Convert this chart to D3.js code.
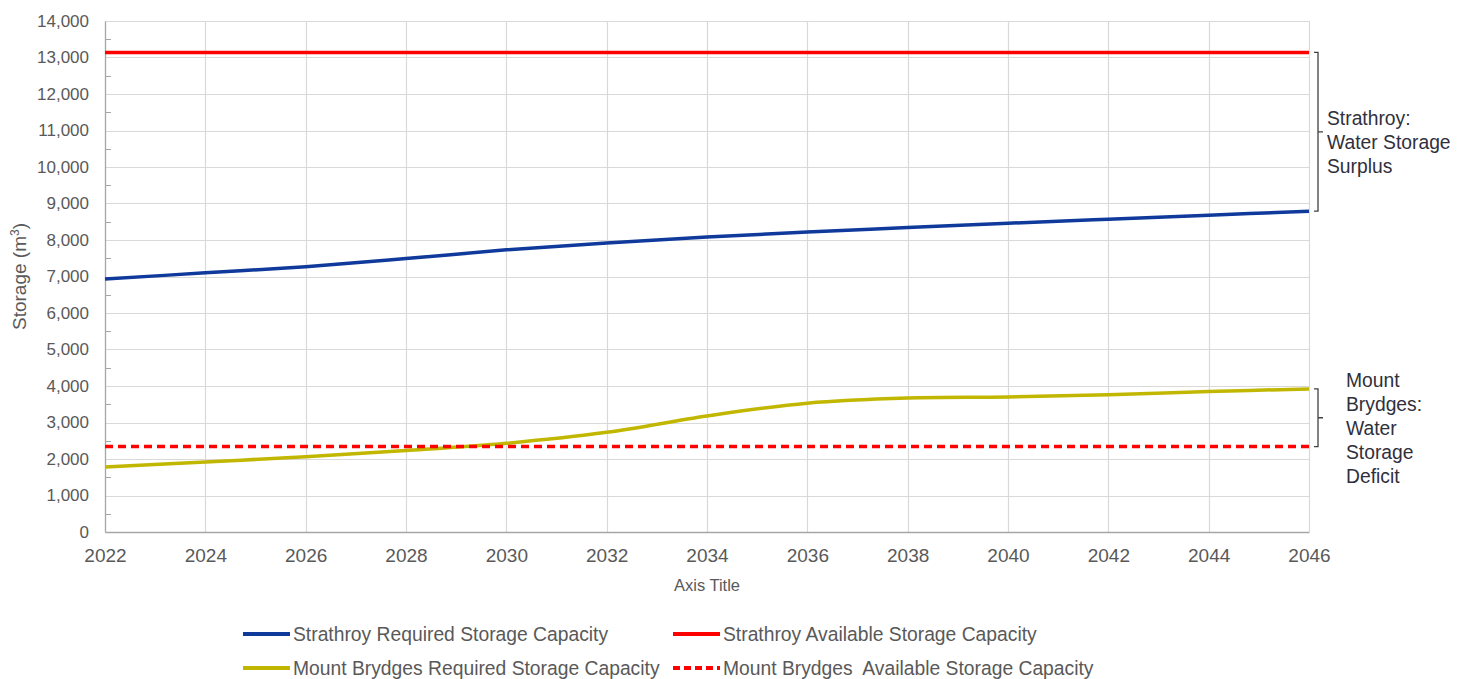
<!DOCTYPE html>
<html>
<head>
<meta charset="utf-8">
<script src="https://cdn.jsdelivr.net/npm/d3@7"></script>
<style>
  body { margin: 0; background: #fff; }
  svg { font-family: "Liberation Sans", Arial, sans-serif; }
</style>
</head>
<body>
<div class="chart"></div>
<script>
// years on the x axis
const years = [2022, 2024, 2026, 2028, 2030, 2032, 2034, 2036, 2038, 2040, 2042, 2044, 2046];

// series values (m3)
const strathroyRequired = [6930, 7100, 7270, 7490, 7730, 7920, 8080, 8220, 8340, 8460, 8570, 8680, 8790];
const strathroyAvailable = [13140, 13140, 13140, 13140, 13140, 13140, 13140, 13140, 13140, 13140, 13140, 13140, 13140];
const brydgesRequired = [1780, 1920, 2060, 2230, 2430, 2730, 3180, 3530, 3670, 3700, 3760, 3850, 3920];
const brydgesAvailable = [2340, 2340, 2340, 2340, 2340, 2340, 2340, 2340, 2340, 2340, 2340, 2340, 2340];

const yTicks = d3.range(0, 14001, 1000);
const yMinorTicks = d3.range(500, 14000, 1000);

const seriesNames = [
  "Strathroy Required Storage Capacity",
  "Strathroy Available Storage Capacity",
  "Mount Brydges Required Storage Capacity",
  "Mount Brydges  Available Storage Capacity"
];

var cfg = {
  width: 1466,
  height: 679,
  margin: {top: 21, right: 157, bottom: 147, left: 105}
};

var series = [
  {name: seriesNames[0], values: strathroyRequired, color: "#0f3a9c", dash: null, smooth: true},
  {name: seriesNames[1], values: strathroyAvailable, color: "#ff0000", dash: null, smooth: false},
  {name: seriesNames[2], values: brydgesRequired, color: "#c2b700", dash: null, smooth: true},
  {name: seriesNames[3], values: brydgesAvailable, color: "#ff0000", dash: "8,5", smooth: false}
];

var scale = {
  x: d3.scaleLinear()
      .domain([2022, 2046])
      .range([cfg.margin.left, cfg.width - cfg.margin.right]),
  y: d3.scaleLinear()
      .domain([0, 14000])
      .range([cfg.height - cfg.margin.bottom, cfg.margin.top])
};

var svg = d3.select(".chart").append("svg")
    .attr("width", cfg.width)
    .attr("height", cfg.height);

// horizontal gridlines
svg.append("g")
  .selectAll("line")
  .data(yTicks.filter(d => d > 0))
  .enter().append("line")
  .attr("x1", scale.x(2022))
  .attr("x2", scale.x(2046))
  .attr("y1", d => Math.round(scale.y(d)) + 0.5)
  .attr("y2", d => Math.round(scale.y(d)) + 0.5)
  .attr("stroke", "#d9d9d9")
  .attr("stroke-width", 1.2);

// vertical gridlines
svg.append("g")
  .selectAll("line")
  .data(years.slice(1))
  .enter().append("line")
  .attr("x1", d => Math.round(scale.x(d)) + 0.5)
  .attr("x2", d => Math.round(scale.x(d)) + 0.5)
  .attr("y1", scale.y(14000))
  .attr("y2", scale.y(0))
  .attr("stroke", "#d9d9d9")
  .attr("stroke-width", 1.2);

// y axis
var yAxis = svg.append("g")
  .attr("transform", `translate(${scale.x(2022)},0)`)
  .call(d3.axisLeft(scale.y).tickValues(yTicks).tickSize(0).tickPadding(16)
        .tickFormat(d3.format(",")));
yAxis.select(".domain").attr("stroke", "#a6a6a6").attr("stroke-width", 1.3);
yAxis.selectAll("text").attr("font-size", 17).attr("fill", "#595959")
  .attr("font-family", "Liberation Sans, Arial, sans-serif");

// minor ticks on y axis, pointing inward
svg.append("g")
  .selectAll("line")
  .data(yMinorTicks)
  .enter().append("line")
  .attr("x1", scale.x(2022))
  .attr("x2", scale.x(2022) + 6)
  .attr("y1", d => Math.round(scale.y(d)) + 0.5)
  .attr("y2", d => Math.round(scale.y(d)) + 0.5)
  .attr("stroke", "#a6a6a6");

// x axis
var xAxis = svg.append("g")
  .attr("transform", `translate(0,${scale.y(0)})`)
  .call(d3.axisBottom(scale.x).tickValues(years).tickSize(0).tickPadding(17)
        .tickFormat(d3.format("d")));
xAxis.select(".domain").attr("stroke", "#a6a6a6").attr("stroke-width", 1.3);
xAxis.selectAll("text").attr("font-size", 19).attr("fill", "#595959")
  .attr("font-family", "Liberation Sans, Arial, sans-serif");

// axis titles
var yTitle = svg.append("text")
  .attr("transform", `translate(26, ${(scale.y(14000) + scale.y(0)) / 2}) rotate(-90)`)
  .attr("text-anchor", "middle")
  .attr("font-size", 19)
  .attr("fill", "#595959");
yTitle.append("tspan").text("Storage (m");
yTitle.append("tspan").attr("baseline-shift", "super").attr("font-size", 12).text("3");
yTitle.append("tspan").text(")");

svg.append("text")
  .attr("x", (scale.x(2022) + scale.x(2046)) / 2)
  .attr("y", 591)
  .attr("text-anchor", "middle")
  .attr("font-size", 16.5)
  .attr("fill", "#595959")
  .text("Axis Title");

// series lines
series.forEach(s => {
  var line = d3.line()
    .x((d, i) => scale.x(years[i]))
    .y(d => scale.y(d))
    .curve(s.smooth ? d3.curveCatmullRom.alpha(0.5) : d3.curveLinear);
  svg.append("path")
    .datum(s.values)
    .attr("d", line)
    .attr("fill", "none")
    .attr("stroke", s.color)
    .attr("stroke-width", 3.5)
    .attr("stroke-dasharray", s.dash);
});

// brackets on the right
function drawBracket(top, bottom, labelLines, textX) {
  var bx = scale.x(2046) + 9;
  var yTop = scale.y(top), yBot = scale.y(bottom);
  var yMid = (yTop + yBot) / 2;
  svg.append("path")
    .attr("d", `M${bx - 4},${yTop} H${bx} V${yBot} H${bx - 4} M${bx},${yMid} H${bx + 5}`)
    .attr("fill", "none")
    .attr("stroke", "#404040")
    .attr("stroke-width", 1.3);
  var t = svg.append("text")
    .attr("font-size", 19.3)
    .attr("fill", "#30303c");
  var lh = 24;
  var y0 = yMid - (labelLines.length - 1) * lh / 2 + 17;
  labelLines.forEach((l, i) => {
    t.append("tspan").attr("x", textX).attr("y", y0 + i * lh).text(l);
  });
}
drawBracket(strathroyAvailable[12], strathroyRequired[12], ["Strathroy:", "Water Storage", "Surplus"], 1327);
drawBracket(brydgesRequired[12], brydgesAvailable[12], ["Mount", "Brydges:", "Water", "Storage", "Deficit"], 1346);

// legend
var legendPos = [[243, 634], [673, 634], [243, 668], [673, 668]];
series.forEach((s, i) => {
  var g = svg.append("g").attr("transform", `translate(${legendPos[i][0]},${legendPos[i][1]})`);
  g.append("line")
    .attr("x1", 0).attr("x2", 47)
    .attr("y1", 0).attr("y2", 0)
    .attr("stroke", s.color)
    .attr("stroke-width", 4)
    .attr("stroke-dasharray", s.dash ? "7,4" : null);
  g.append("text")
    .attr("x", 50).attr("y", 6.5)
    .attr("font-size", 19.3)
    .attr("fill", "#595959")
    .style("white-space", "pre")
    .text(s.name);
});
</script>
</body>
</html>
